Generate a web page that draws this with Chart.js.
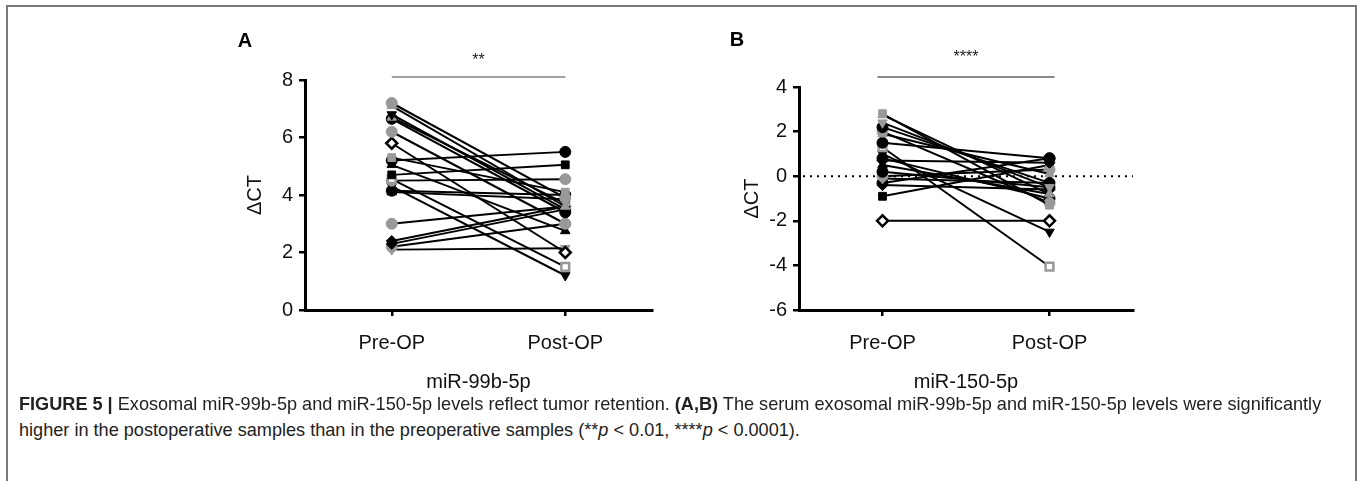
<!DOCTYPE html>
<html>
<head>
<meta charset="utf-8">
<script src="https://cdn.jsdelivr.net/npm/chart.js@4.4.1/dist/chart.umd.min.js"></script>
<style>
  html, body { margin: 0; padding: 0; background: #fff; }
  body { width: 1360px; height: 481px; position: relative; overflow: hidden;
         font-family: "Liberation Sans", Arial, sans-serif; }
  .frame { position: absolute; left: 6px; top: 5px; width: 1347px; height: 520px;
           border: 2px solid #7a7a7a; border-bottom: none; }
  .panel { position: absolute; top: 0; }
  #panelA { left: 200px; }
  #panelB { left: 700px; }
  .caption { position: absolute; left: 19px; font-size: 16px; color: #222; white-space: nowrap; }
  #cap1 { top: 394px; }
  #cap2 { top: 420px; }
</style>
</head>
<body>
<div class="frame"></div>
<canvas id="panelA" class="panel" width="480" height="398"></canvas>
<canvas id="panelB" class="panel" width="460" height="398"></canvas>
<div class="caption" id="cap1"><b>FIGURE 5 |</b> Exosomal miR-99b-5p and miR-150-5p levels reflect tumor retention. <b>(A,B)</b> The serum exosomal miR-99b-5p and miR-150-5p levels were significantly</div>
<div class="caption" id="cap2">higher in the postoperative samples than in the preoperative samples (**<i>p</i> &lt; 0.01, ****<i>p</i> &lt; 0.0001).</div>

<script>
/* ---- data ---- */
var categories = ['Pre-OP', 'Post-OP'];

/* panel A: miR-99b-5p, one entry per patient */
var preA  = [7.2, 7.1, 6.8, 6.7, 6.65, 6.2, 5.8, 5.3, 5.2, 5.05, 4.7, 4.55, 4.5, 4.3, 4.1, 4.15, 3.0, 2.4, 2.3, 2.2, 2.1];
var postA = [3.9, 3.6, 3.5, 3.7, 3.4, 3.0, 2.0, 4.1, 5.5, 2.75, 5.05, 1.5, 4.55, 1.2, 3.85, 4.0, 3.6, 3.6, 3.5, 3.0, 2.15];

/* panel B: miR-150-5p */
var preB  = [2.8, 2.75, 2.4, 2.2, 2.0, 1.9, 1.5, 1.3, 1.0, 0.8, 0.7, 0.5, 0.2, 0.0, -0.1, -0.4, -0.9, -2.0, -0.3];
var postB = [-1.3, -0.8, -0.5, -0.3, -1.2, 0.1, 0.8, -4.05, -2.5, -1.0, 0.6, -0.8, -0.5, 0.3, -0.3, -0.6, 0.5, -2.0, 0.8];

var ticksA = [0, 2, 4, 6, 8];
var ticksB = [-6, -4, -2, 0, 2, 4];

/* marker codes: colour (g = grey, k = black) + shape (c circle, s square, t triangle,
   v triangle down, d diamond) + optional o for open marker */
var markersA = ['gc', 'gt', 'kv', 'gt', 'kc', 'gc', 'kdo', 'gs', 'kc', 'kt', 'ks', 'gso', 'gc', 'kv', 'kt', 'kc', 'gc', 'kd', 'kd', 'gc', 'gv'];
var markersB = ['gs', 'gt', 'gv', 'kc', 'gc', 'gt', 'kc', 'gso', 'kv', 'kc', 'kd', 'kt', 'kc', 'gc', 'gv', 'kd', 'ks', 'kdo', 'kc'];

var GREY = '#999999';
var FONT = '"Liberation Sans", Arial, sans-serif';
var SHAPES = { c: ['circle', 0], s: ['rect', 0], t: ['triangle', 0], v: ['triangle', 180], d: ['rectRot', 0] };

function makeDatasets(pre, post, marks) {
  return pre.map(function (p, i) {
    var code = marks[i];
    var col = code.charAt(0) === 'g' ? GREY : '#000';
    var shape = SHAPES[code.charAt(1)];
    var open = code.charAt(2) === 'o';
    return {
      data: [p, post[i]],
      borderColor: '#000',
      borderWidth: 2,
      pointStyle: shape[0],
      pointRotation: shape[1],
      pointRadius: 5.5,
      pointBackgroundColor: open ? '#fff' : col,
      pointBorderColor: col,
      pointBorderWidth: open ? 2.5 : 1
    };
  });
}

/* letter, significance bar, stars and dotted zero line */
var extras = {
  id: 'extras',
  beforeDatasetsDraw: function (chart) {
    var o = chart.options.plugins.extras;
    if (!o.zeroLine) return;
    var ctx = chart.ctx, y = chart.scales.y.getPixelForValue(0), a = chart.chartArea;
    ctx.save();
    ctx.strokeStyle = '#000';
    ctx.lineWidth = 2;
    ctx.setLineDash([2, 5]);
    ctx.beginPath();
    ctx.moveTo(a.left + 4, y);
    ctx.lineTo(a.right, y);
    ctx.stroke();
    ctx.restore();
  },
  afterDraw: function (chart) {
    var o = chart.options.plugins.extras;
    var ctx = chart.ctx, x = chart.scales.x;
    var x0 = x.getPixelForValue(0) - o.barExtra;
    var x1 = x.getPixelForValue(1) + o.barExtra;
    ctx.save();
    ctx.fillStyle = '#000';
    ctx.textAlign = 'center';
    ctx.textBaseline = 'middle';
    ctx.font = 'bold 20px ' + FONT;
    ctx.fillText(o.letter, o.letterX, o.letterY);
    ctx.strokeStyle = o.barColor;
    ctx.lineWidth = o.barWidth;
    ctx.beginPath();
    ctx.moveTo(x0, o.barY);
    ctx.lineTo(x1, o.barY);
    ctx.stroke();
    ctx.fillStyle = '#222';
    ctx.font = '16px ' + FONT;
    ctx.fillText(o.stars, (x0 + x1) / 2, o.starsY);
    ctx.restore();
  }
};

function makeChart(id, pre, post, marks, ticks, xTitle, yWidth, padL, padR, padT, extra) {
  return new Chart(document.getElementById(id), {
    type: 'line',
    data: { labels: categories, datasets: makeDatasets(pre, post, marks) },
    plugins: [extras],
    options: {
      responsive: false,
      animation: false,
      layout: { padding: { left: padL, right: padR, top: padT, bottom: 0 } },
      plugins: { legend: { display: false }, tooltip: { enabled: false }, extras: extra },
      scales: {
        x: {
          type: 'category',
          offset: true,
          afterFit: function (s) { s.height = 88; },
          grid: { drawOnChartArea: false, drawTicks: true, tickLength: 6, color: '#000', lineWidth: 2.5, offset: false },
          border: { display: true, color: '#000', width: 3 },
          ticks: { color: '#111', padding: 15, font: { size: 20, family: FONT } },
          title: { display: true, text: xTitle, color: '#111', padding: { top: 4, bottom: 4 },
                   font: { size: 20, family: FONT } }
        },
        y: {
          min: ticks[0],
          max: ticks[ticks.length - 1],
          afterFit: function (s) { s.width = yWidth; },
          afterBuildTicks: function (s) { s.ticks = ticks.map(function (v) { return { value: v }; }); },
          grid: { drawOnChartArea: false, drawTicks: true, tickLength: 6, color: '#000', lineWidth: 2.5 },
          border: { display: true, color: '#000', width: 3 },
          ticks: { color: '#111', padding: 6, font: { size: 20, family: FONT } },
          title: { display: true, text: 'ΔCT', color: '#111', padding: { top: 4, bottom: 4 },
                   font: { size: 20, family: FONT } }
        }
      }
    }
  });
}

makeChart('panelA', preA, postA, markersA, ticksA, 'miR-99b-5p', 66, 39, 28, 80,
  { letter: 'A', letterX: 45, letterY: 41, stars: '**', starsY: 61, barY: 77, barExtra: 0,
    barColor: '#444', barWidth: 1.2, zeroLine: false });
makeChart('panelB', preB, postB, markersB, ticksB, 'miR-150-5p', 63, 36, 27, 87,
  { letter: 'B', letterX: 37, letterY: 40, stars: '****', starsY: 58, barY: 77, barExtra: 5,
    barColor: '#8a8a8a', barWidth: 2, zeroLine: true });

/* stretch caption so line one spans the same width as the figure */
(function () {
  var c1 = document.getElementById('cap1');
  var w = c1.getBoundingClientRect().width;
  var fs = 16 * 1303 / w;
  c1.style.fontSize = fs + 'px';
  document.getElementById('cap2').style.fontSize = fs + 'px';
})();
</script>
</body>
</html>
